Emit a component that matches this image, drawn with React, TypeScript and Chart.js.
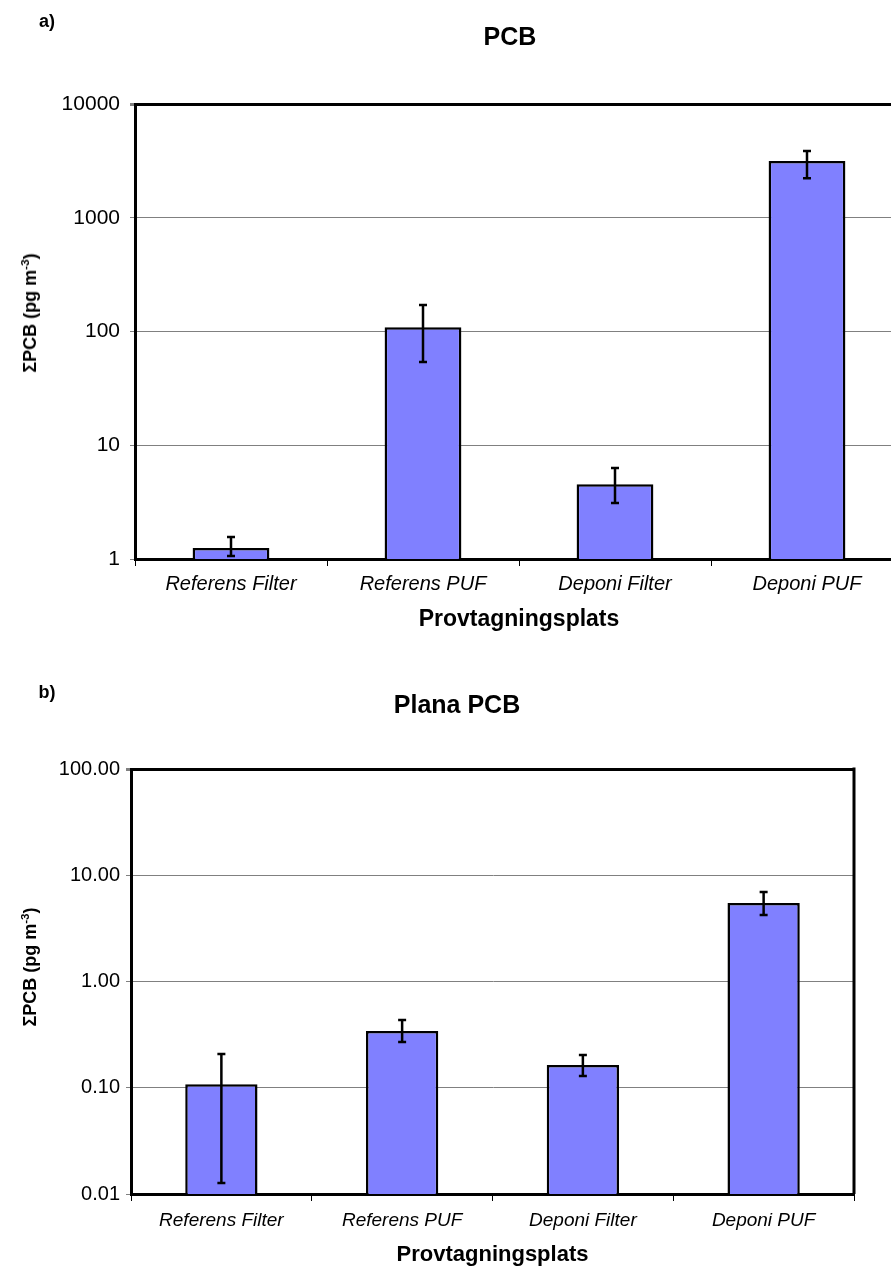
import React, { useEffect, useRef } from 'react';
import { Chart, registerables } from 'chart.js';

Chart.register(...registerables);

const FONT = '"Liberation Sans", Arial, sans-serif';

const categories = ['Referens Filter', 'Referens PUF', 'Deponi Filter', 'Deponi PUF'];

const pcbValues = [1.25, 109, 4.55, 3150];
const pcbLow = [1.06, 54, 3.1, 2230];
const pcbHigh = [1.56, 171, 6.3, 3860];
const pcbTicks = [1, 10, 100, 1000, 10000];

const planaValues = [0.108, 0.342, 0.164, 5.48];
const planaLow = [0.0127, 0.27, 0.129, 4.23];
const planaHigh = [0.208, 0.434, 0.203, 6.95];
const planaTicks = [0.01, 0.1, 1, 10, 100];

const errorBarsPlugin = {
  id: 'errorBars',
  afterDatasetsDraw(chart: any, _args: any, opts: any) {
    const meta = chart.getDatasetMeta(0);
    const y = chart.scales.y;
    const ctx = chart.ctx;
    ctx.save();
    ctx.strokeStyle = '#000';
    ctx.lineWidth = 2.5;
    const cap = 4;
    meta.data.forEach((bar: any, i: number) => {
      const x = bar.x;
      const yl = y.getPixelForValue(opts.low[i]);
      const yh = y.getPixelForValue(opts.high[i]);
      ctx.beginPath();
      ctx.moveTo(x, yl);
      ctx.lineTo(x, yh);
      ctx.moveTo(x - cap, yl);
      ctx.lineTo(x + cap, yl);
      ctx.moveTo(x - cap, yh);
      ctx.lineTo(x + cap, yh);
      ctx.stroke();
    });
    ctx.restore();
  },
};

const framePlugin = {
  id: 'frameRight',
  afterDraw(chart: any) {
    const { ctx, chartArea } = chart;
    ctx.save();
    ctx.strokeStyle = '#000';
    ctx.lineWidth = 3;
    ctx.beginPath();
    ctx.moveTo(chartArea.right, chartArea.top - 1.5);
    ctx.lineTo(chartArea.right, chartArea.bottom);
    ctx.stroke();
    ctx.restore();
  },
};

type Geo = {
  top: number;
  right: number;
  leftW: number;
  bottomH: number;
  tickSize: number;
  labelSize: number;
  titleSize: number;
  tickPad: number;
  labelPad: number;
  titleBottom: number;
};

function makeConfig(
  values: number[],
  low: number[],
  high: number[],
  ticks: number[],
  fmt: (v: number) => string,
  g: Geo
): any {
  const max = ticks[ticks.length - 1];
  return {
    type: 'bar',
    data: {
      labels: categories,
      datasets: [
        {
          data: values,
          backgroundColor: '#8080FF',
          borderColor: '#000',
          borderWidth: 2.5,
          borderSkipped: 'start',
          barPercentage: 0.4,
          categoryPercentage: 1,
        },
      ],
    },
    options: {
      responsive: false,
      animation: false,
      devicePixelRatio: 1,
      layout: { padding: { top: g.top, right: g.right, left: 0, bottom: 0 } },
      plugins: {
        legend: { display: false },
        tooltip: { enabled: false },
        title: { display: false },
        errorBars: { low, high },
      },
      scales: {
        x: {
          type: 'category',
          offset: true,
          grid: {
            offset: true,
            drawOnChartArea: false,
            drawTicks: true,
            tickLength: 7,
            color: '#000',
            lineWidth: 1,
          },
          border: { color: '#000', width: 3 },
          ticks: {
            color: '#000',
            font: { family: FONT, size: g.labelSize, style: 'italic' },
            padding: g.labelPad,
            maxRotation: 0,
            autoSkip: false,
          },
          title: {
            display: true,
            text: 'Provtagningsplats',
            color: '#000',
            font: { family: FONT, size: g.titleSize, weight: 'bold' },
            padding: { top: 0, bottom: g.titleBottom },
          },
          afterFit: (s: any) => {
            s.height = g.bottomH;
          },
        },
        y: {
          type: 'logarithmic',
          min: ticks[0],
          max,
          afterBuildTicks: (s: any) => {
            s.ticks = ticks.map((v) => ({ value: v }));
          },
          afterFit: (s: any) => {
            s.width = g.leftW;
          },
          ticks: {
            color: '#000',
            font: { family: FONT, size: g.tickSize },
            padding: g.tickPad,
            callback: (v: any) => fmt(Number(v)),
          },
          grid: {
            color: (c: any) => (c.tick && c.tick.value === max ? '#000' : '#808080'),
            lineWidth: (c: any) => (c.tick && c.tick.value === max ? 3 : 1),
            tickColor: '#808080',
            tickLength: 5,
          },
          border: { color: '#000', width: 3 },
        },
      },
    },
    plugins: [errorBarsPlugin, framePlugin],
  };
}

function BarChart(props: { config: any; width: number; height: number; left: number; top: number }) {
  const ref = useRef<HTMLCanvasElement | null>(null);
  useEffect(() => {
    if (!ref.current) return;
    const chart = new Chart(ref.current, props.config);
    return () => chart.destroy();
  }, []);
  return (
    <canvas
      ref={ref}
      width={props.width}
      height={props.height}
      style={{
        position: 'absolute',
        left: props.left,
        top: props.top,
        width: props.width,
        height: props.height,
        display: 'block',
      }}
    />
  );
}

const textBase: React.CSSProperties = {
  position: 'absolute',
  fontFamily: FONT,
  color: '#000',
  whiteSpace: 'nowrap',
  lineHeight: 1,
};

function Centered(props: { x: number; y: number; size: number; bold?: boolean; children: any }) {
  return (
    <div
      style={{
        ...textBase,
        left: props.x,
        top: props.y,
        fontSize: props.size,
        fontWeight: props.bold ? 'bold' : 'normal',
        transform: 'translate(-50%, -50%)',
      }}
    >
      {props.children}
    </div>
  );
}

function YTitle(props: { x: number; y: number; size: number; text: string }) {
  return (
    <div
      style={{
        ...textBase,
        left: props.x,
        top: props.y,
        fontSize: props.size,
        fontWeight: 'bold',
        transform: 'translate(-50%, -50%) rotate(-90deg)',
      }}
    >
      {props.text} (pg m<sup style={{ fontSize: '0.65em' }}>-3</sup>)
    </div>
  );
}

export default function App() {
  const cfgA = makeConfig(pcbValues, pcbLow, pcbHigh, pcbTicks, (v) => String(Math.round(v)), {
    top: 104,
    right: 17,
    leftW: 135,
    bottomH: 81,
    tickSize: 21,
    labelSize: 20,
    titleSize: 23,
    tickPad: 10,
    labelPad: 6,
    titleBottom: 7,
  });
  const cfgB = makeConfig(planaValues, planaLow, planaHigh, planaTicks, (v) => v.toFixed(2), {
    top: 119,
    right: 37,
    leftW: 131,
    bottomH: 76,
    tickSize: 20,
    labelSize: 19,
    titleSize: 22,
    tickPad: 6,
    labelPad: 8,
    titleBottom: 2,
  });
  return (
    <div
      style={{
        position: 'absolute',
        left: 0,
        top: 0,
        width: 891,
        height: 1270,
        overflow: 'hidden',
        background: '#fff',
      }}
    >
      <BarChart config={cfgA} width={920} height={640} left={0} top={0} />
      <BarChart config={cfgB} width={891} height={620} left={0} top={650} />
      <Centered x={47} y={21} size={18} bold>
        a)
      </Centered>
      <Centered x={510} y={36} size={25} bold>
        PCB
      </Centered>
      <Centered x={47} y={692} size={18} bold>
        b)
      </Centered>
      <Centered x={457} y={704} size={25} bold>
        Plana PCB
      </Centered>
      <YTitle x={29} y={313} size={18} text="ΣPCB" />
      <YTitle x={29} y={967} size={18} text="ΣPCB" />
    </div>
  );
}
